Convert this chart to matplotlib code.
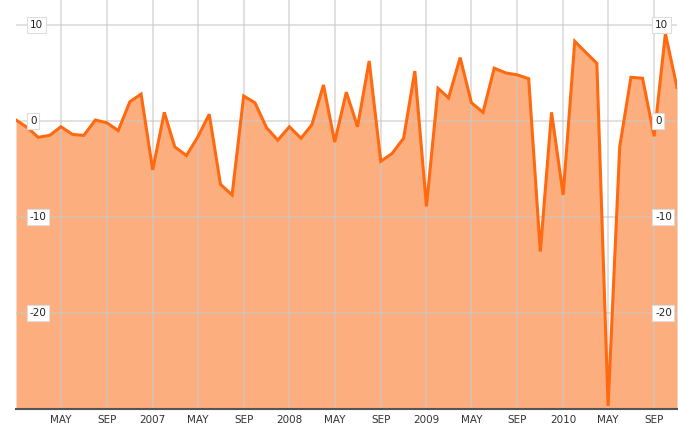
import numpy as np
import pandas as pd
import matplotlib
matplotlib.use('Agg')
import matplotlib.pyplot as plt
import matplotlib.dates as mdates
import matplotlib.transforms as mtrans

# monthly values, Jan 2006 .. Nov 2010
months = pd.date_range('2006-01-01', periods=59, freq='MS')
values = [0.1, -0.7, -1.7, -1.5, -0.6, -1.4, -1.5, 0.1, -0.2, -1.0,
          2.0, 2.8, -5.1, 0.9, -2.7, -3.6, -1.7, 0.7, -6.6, -7.7,
          2.6, 1.9, -0.7, -2.0, -0.6, -1.8, -0.4, 3.75, -2.2, 3.0,
          -0.6, 6.25, -4.2, -3.4, -1.8, 5.2, -8.9, 3.4, 2.4, 6.6,
          1.9, 0.9, 5.5, 5.0, 4.8, 4.4, -13.6, 0.9, -7.7, 8.3,
          7.2, 6.0, -29.7, -2.7, 4.55, 4.45, -1.6, 9.1, 3.5]
y_ticks = [-20, -10, 0, 10]
x_ticks = pd.to_datetime(['2006-05', '2006-09', '2007-01', '2007-05', '2007-09',
                          '2008-01', '2008-05', '2008-09', '2009-01', '2009-05',
                          '2009-09', '2010-01', '2010-05', '2010-09'])
x_labels = ['MAY', 'SEP', '2007', 'MAY', 'SEP', '2008', 'MAY', 'SEP',
            '2009', 'MAY', 'SEP', '2010', 'MAY', 'SEP']

line_col = '#ff6a10'
fill_col = '#fdae7f'

fig = plt.figure(figsize=(6.78, 4.25), dpi=100)
ax = fig.add_axes([16/678, 16/425, 661/678, 409/425])

ax.fill_between(months, values, -30, color=fill_col, lw=0, zorder=1)
ax.plot(months, values, color=line_col, lw=2.2, zorder=3, solid_joinstyle='miter')

ax.set_ylim(-30, 12.6)
ax.set_xlim(months[0], months[-1])
ax.set_yticks(y_ticks)
ax.set_xticks(x_ticks)
ax.set_xticklabels(x_labels)
ax.grid(True, color='#c8c8c8', lw=1.3, alpha=0.6, zorder=2)
ax.set_axisbelow(False)

for s in ['top', 'left', 'right']:
    ax.spines[s].set_visible(False)
ax.spines['bottom'].set_color('#555555')
ax.spines['bottom'].set_linewidth(1.5)
ax.spines['bottom'].set_zorder(4)

ax.tick_params(axis='y', length=0, labelleft=False)
ax.tick_params(axis='x', length=0, labelsize=7.5, colors='#333333', pad=4)

# value labels in small boxes on both sides
tr = mtrans.blended_transform_factory(ax.transAxes, ax.transData)
box = dict(boxstyle='square,pad=0.25', fc='white', ec='#dddddd', lw=0.8)
for v in y_ticks:
    ax.text(14/661, v, str(v), transform=tr, ha='left', va='center',
            fontsize=7.5, color='#222222', bbox=box, zorder=5)
    ax.text(639/661, v, str(v), transform=tr, ha='left', va='center',
            fontsize=7.5, color='#222222', bbox=box, zorder=5)

fig.savefig('out.png', dpi=100)
